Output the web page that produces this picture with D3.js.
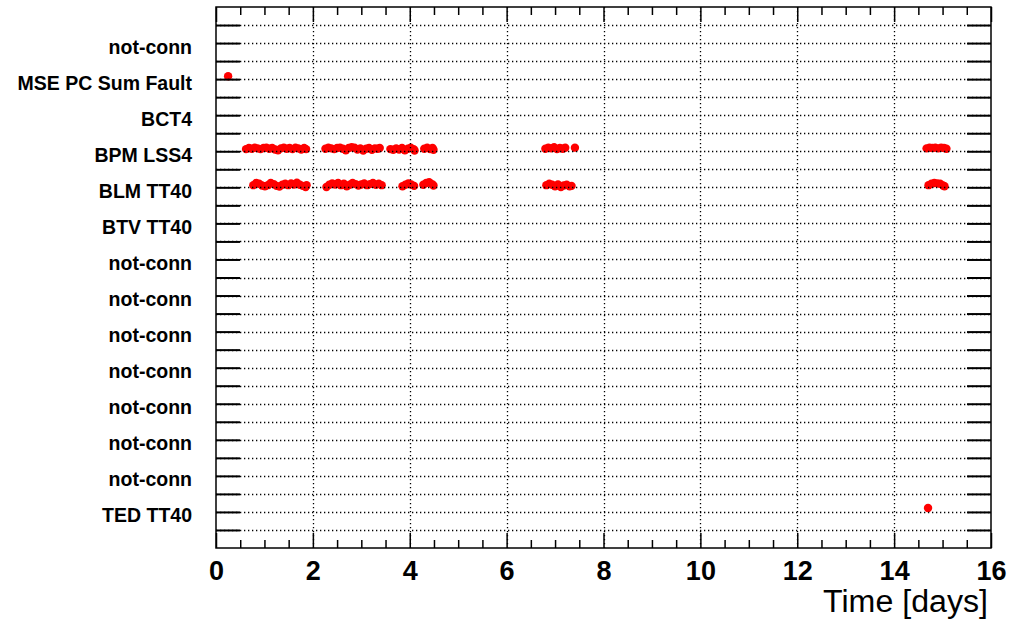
<!DOCTYPE html>
<html>
<head>
<meta charset="utf-8">
<script src="https://cdn.jsdelivr.net/npm/d3@7"></script>
<style>
  html, body { margin: 0; padding: 0; background: #fff; }
  svg { display: block; }
  text { font-family: "Liberation Sans", Arial, Helvetica, sans-serif; }
</style>
</head>
<body>
<svg id="chart" width="1019" height="627"></svg>
<script>
// Channel names, bottom (1) to top (14)
const channels = [
  "TED TT40", "not-conn", "not-conn", "not-conn", "not-conn", "not-conn",
  "not-conn", "not-conn", "BTV TT40", "BLM TT40", "BPM LSS4", "BCT4",
  "MSE PC Sum Fault", "not-conn"
];

// x-axis labelled ticks (days)
const majorTicks = [0, 2, 4, 6, 8, 10, 12, 14, 16];

// Interlock events per channel: [time in days, offset above the channel line]
const eventsMSE = [[0.25, 0.08]];

const eventsTED = [[14.70, 0.11]];

const eventsBPM = [
  [0.62, .06], [0.68, .09], [0.74, .07], [0.80, .10], [0.86, .08], [0.92, .06],
  [0.98, .09], [1.04, .10], [1.10, .07], [1.16, .09], [1.22, .05], [1.28, .03],
  [1.34, .08], [1.40, .10], [1.46, .07], [1.52, .09], [1.58, .06], [1.64, .10],
  [1.70, .08], [1.76, .05], [1.82, .09], [1.86, .06],
  [2.26, .07], [2.32, .10], [2.38, .08], [2.44, .06], [2.50, .09], [2.56, .10],
  [2.62, .07], [2.68, .03], [2.74, .09], [2.80, .11], [2.86, .10], [2.92, .05],
  [2.98, .08], [3.04, .02], [3.10, .07], [3.16, .09], [3.22, .04], [3.28, .08],
  [3.34, .07], [3.38, .09],
  [3.60, .06], [3.66, .04], [3.72, .08], [3.78, .05], [3.84, .09], [3.90, .03],
  [3.96, .07], [4.02, .10], [4.08, .06], [4.10, .02],
  [4.30, .07], [4.36, .10], [4.42, .06], [4.47, .09], [4.49, .04],
  [6.80, .07], [6.86, .10], [6.92, .08], [6.98, .11], [7.04, .06], [7.10, .09],
  [7.16, .07], [7.21, .10], [7.41, .10],
  [14.67, .08], [14.73, .10], [14.79, .09], [14.85, .10], [14.91, .08],
  [14.97, .10], [15.03, .09], [15.08, .07]
];

const eventsBLM = [
  [0.77, .06], [0.83, .12], [0.89, .10], [0.95, .05], [1.01, .03], [1.07, .06],
  [1.13, .12], [1.19, .09], [1.25, .04], [1.31, .02], [1.37, .07], [1.43, .10],
  [1.49, .06], [1.55, .11], [1.61, .08], [1.67, .13], [1.73, .07], [1.79, .04],
  [1.85, .01], [1.87, .06],
  [2.28, .01], [2.34, .07], [2.40, .11], [2.46, .08], [2.52, .12], [2.58, .06],
  [2.64, .10], [2.70, .03], [2.76, .07], [2.82, .12], [2.88, .09], [2.94, .05],
  [3.00, .08], [3.06, .11], [3.12, .06], [3.18, .09], [3.24, .12], [3.30, .07],
  [3.36, .10], [3.42, .06],
  [3.85, .03], [3.91, .07], [3.97, .11], [4.03, .08], [4.09, .04],
  [4.28, .07], [4.34, .12], [4.40, .14], [4.46, .09], [4.49, .05],
  [6.82, .06], [6.88, .10], [6.94, .07], [7.00, .03], [7.06, .08], [7.12, .01],
  [7.18, .05], [7.24, .07], [7.30, .03], [7.34, .04],
  [14.71, .06], [14.77, .10], [14.83, .12], [14.89, .11], [14.95, .10],
  [15.01, .05], [15.04, .03]
];

const series = [
  { name: "MSE PC Sum Fault", events: eventsMSE },
  { name: "BPM LSS4", events: eventsBPM },
  { name: "BLM TT40", events: eventsBLM },
  { name: "TED TT40", events: eventsTED }
];

// ---- layout ----
const frameL = 216, frameR = 991, frameT = 7, frameB = 548;

const svg = d3.select("#chart");

const x = d3.scaleLinear().domain([0, 16]).range([frameL, frameR]);
const y = d3.scaleLinear().domain([0, channels.length + 1]).range([frameB, frameT]);

const channelLevel = name => channels.indexOf(name) + 1;

const halfSteps = d3.range(1, 2 * (channels.length + 1)).map(i => i / 2);
const minorX = d3.range(1, 32).map(i => i / 2).filter(v => v % 2 !== 0);
const gridX = majorTicks.slice(1, -1);

// ---- markers ----
const marks = svg.append("g");
series.forEach(s => {
  const base = channelLevel(s.name);
  marks.selectAll(null)
    .data(s.events)
    .join("circle")
    .attr("cx", d => x(d[0]))
    .attr("cy", d => y(base + d[1]))
    .attr("r", 4.2)
    .attr("fill", "#ff0000");
});

// ---- dotted grid ----
const grid = svg.append("g")
  .attr("stroke", "#000")
  .attr("stroke-width", 1.3)
  .attr("stroke-dasharray", "1.3,2.7");

grid.selectAll(null).data(halfSteps).join("line")
  .attr("x1", frameL).attr("x2", frameR)
  .attr("y1", d => Math.round(y(d)) + 0.5).attr("y2", d => Math.round(y(d)) + 0.5);

grid.selectAll(null).data(gridX).join("line")
  .attr("y1", frameT).attr("y2", frameB)
  .attr("x1", d => Math.round(x(d)) + 0.5).attr("x2", d => Math.round(x(d)) + 0.5);

// ---- axes ----
function styleAxis(g, width) {
  g.select(".domain").remove();
  g.selectAll(".tick line").attr("stroke", "#000").attr("stroke-width", width);
}

// bottom: major with labels, minor without
svg.append("g")
  .attr("transform", `translate(0,${frameB})`)
  .call(d3.axisBottom(x).tickValues(majorTicks).tickSize(-15).tickPadding(13)
        .tickFormat(d3.format("d")))
  .call(g => styleAxis(g, 1.5))
  .call(g => g.selectAll(".tick text")
        .attr("fill", "#000")
        .attr("font-size", 27)
        .attr("font-weight", "bold")
        .attr("font-family", "Liberation Sans, Arial, sans-serif"));

svg.append("g")
  .attr("transform", `translate(0,${frameB})`)
  .call(d3.axisBottom(x).tickValues(minorX).tickSize(-8).tickFormat(""))
  .call(g => styleAxis(g, 1.5));

// top: ticks only
svg.append("g")
  .attr("transform", `translate(0,${frameT})`)
  .call(d3.axisTop(x).tickValues(majorTicks).tickSize(-15).tickFormat(""))
  .call(g => styleAxis(g, 1.5));

svg.append("g")
  .attr("transform", `translate(0,${frameT})`)
  .call(d3.axisTop(x).tickValues(minorX).tickSize(-8).tickFormat(""))
  .call(g => styleAxis(g, 1.5));

// left and right: ticks at every half channel
svg.append("g")
  .attr("transform", `translate(${frameL},0)`)
  .call(d3.axisLeft(y).tickValues(halfSteps).tickSize(-24).tickFormat(""))
  .call(g => styleAxis(g, 2));

svg.append("g")
  .attr("transform", `translate(${frameR},0)`)
  .call(d3.axisRight(y).tickValues(halfSteps).tickSize(-24).tickFormat(""))
  .call(g => styleAxis(g, 2));

// channel names
svg.append("g")
  .attr("transform", `translate(${frameL},0)`)
  .call(d3.axisLeft(y).tickValues(d3.range(1, channels.length + 1))
        .tickSize(0).tickPadding(24).tickFormat(d => channels[d - 1]))
  .call(g => g.select(".domain").remove())
  .call(g => g.selectAll(".tick text")
        .attr("fill", "#000")
        .attr("dy", 10)
        .attr("font-size", 19.5)
        .attr("font-weight", "bold")
        .attr("font-family", "Liberation Sans, Arial, sans-serif"));

// frame
svg.append("rect")
  .attr("x", frameL).attr("y", frameT)
  .attr("width", frameR - frameL).attr("height", frameB - frameT)
  .attr("fill", "none")
  .attr("stroke", "#000")
  .attr("stroke-width", 1.5);

// axis title
svg.append("text")
  .attr("x", 988).attr("y", 612)
  .attr("text-anchor", "end")
  .attr("font-size", 31)
  .attr("textLength", 165)
  .attr("lengthAdjust", "spacingAndGlyphs")
  .attr("fill", "#000")
  .text("Time [days]");
</script>
</body>
</html>
